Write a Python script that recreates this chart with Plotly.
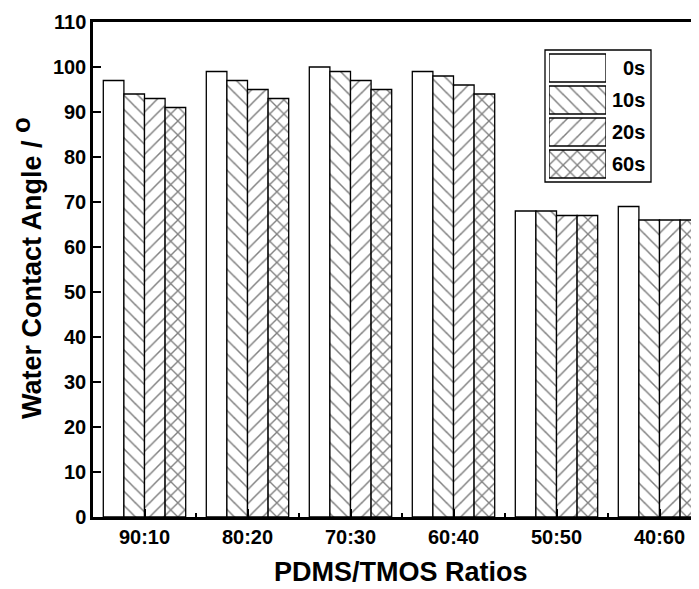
import plotly.graph_objects as go

categories = ["90:10", "80:20", "70:30", "60:40", "50:50", "40:60"]
series_names = ["0s", "10s", "20s", "60s"]
values_0s = [97, 99, 100, 99, 68, 69]
values_10s = [94, 97, 99, 98, 68, 66]
values_20s = [93, 95, 97, 96, 67, 66]
values_60s = [91, 93, 95, 94, 67, 66]
y_ticks = list(range(0, 111, 10))

series_values = [values_0s, values_10s, values_20s, values_60s]
patterns = ["", "\\", "/", "x"]
pattern_sizes = [10, 10, 10, 10]
pattern_solidity = [0.15, 0.15, 0.15, 0.25]

FONT = "Liberation Sans, Arial, Helvetica, sans-serif"

# page has an 8px body margin; target plot area in window pixels
OFF = 8
L, R, T, B = 93, 699, 22, 517
W, H = R - L, B - T
FIG_W, FIG_H = 699 - OFF, 589 - OFF

def px(xp):
    return (xp - L) / W

def py(yp):
    return (B - yp) / H

fig = go.Figure()
xs = list(range(len(categories)))
for name, vals, pat, ps, so in zip(series_names, series_values, patterns,
                                   pattern_sizes, pattern_solidity):
    fig.add_trace(go.Bar(
        x=xs, y=vals, name=name, showlegend=False,
        marker=dict(color="white", line=dict(color="black", width=1.3),
                    pattern=dict(shape=pat, fgcolor="black", bgcolor="white",
                                 size=ps, solidity=so)),
    ))

# custom legend with large patterned swatches (inset axes)
fig.add_trace(go.Bar(
    x=[1] * len(series_names), y=list(range(len(series_names))), orientation="h",
    xaxis="x2", yaxis="y2", showlegend=False, width=0.875, hoverinfo="skip",
    marker=dict(color="white", line=dict(color="black", width=1.3),
                pattern=dict(shape=patterns, fgcolor="black", bgcolor="white",
                             size=10, solidity=pattern_solidity)),
))

annotations = []
row_centers = [68, 100, 132, 164]
for name, yc in zip(series_names, row_centers):
    annotations.append(dict(
        x=px(647), y=py(yc), xref="paper", yref="paper", text=name,
        showarrow=False, xanchor="right", yanchor="middle",
        font=dict(family=FONT, size=20, color="black", weight="bold"),
    ))

annotations.append(dict(
    x=px(401), y=py(572), xref="paper", yref="paper", text="PDMS/TMOS Ratios",
    showarrow=False, xanchor="center", yanchor="middle",
    font=dict(family=FONT, size=27, color="black", weight="bold"),
))
annotations.append(dict(
    x=px(26), y=py(268), xref="paper", yref="paper",
    text='Water Contact Angle / <sup><span style="font-size:26px">o</span></sup>',
    textangle=-90,
    showarrow=False, xanchor="center", yanchor="middle",
    font=dict(family=FONT, size=27, color="black", weight="bold"),
))

fig.update_layout(
    width=FIG_W, height=FIG_H,
    margin=dict(l=L - OFF, r=699 - R, t=T - OFF, b=589 - B, pad=0),
    paper_bgcolor="white", plot_bgcolor="white",
    barmode="group", bargap=0.2, bargroupgap=0,
    annotations=annotations,
    shapes=[dict(type="rect", xref="paper", yref="paper",
                 x0=px(545), x1=px(651), y0=py(182), y1=py(50),
                 line=dict(color="black", width=1.3), fillcolor="rgba(0,0,0,0)")],
    xaxis=dict(
        range=[-0.5, -0.5 + W / 103.0], tickvals=xs, ticktext=categories,
        showline=True, linecolor="black", linewidth=3, mirror=True,
        ticks="inside", ticklen=8, tickwidth=2, tickcolor="black",
        minor=dict(tickvals=[i + 0.5 for i in xs], ticks="inside", ticklen=4,
                   tickwidth=2, tickcolor="black"),
        showgrid=False, zeroline=False,
        tickfont=dict(family=FONT, size=20, color="black", weight="bold"),
        fixedrange=True,
    ),
    yaxis=dict(
        range=[0, 110], tickvals=y_ticks, ticksuffix="\u00a0",
        showline=True, linecolor="black", linewidth=2.5,
        ticks="inside", ticklen=8, tickwidth=2, tickcolor="black",
        showgrid=False, zeroline=False,
        tickfont=dict(family=FONT, size=20, color="black", weight="bold"),
        fixedrange=True,
    ),
    xaxis2=dict(domain=[px(549), px(606)], range=[0, 1], visible=False,
                anchor="y2", fixedrange=True),
    yaxis2=dict(domain=[py(180), py(52)], range=[3.5, -0.5], visible=False,
                anchor="x2", fixedrange=True),
)

fig.write_html("out.html")
